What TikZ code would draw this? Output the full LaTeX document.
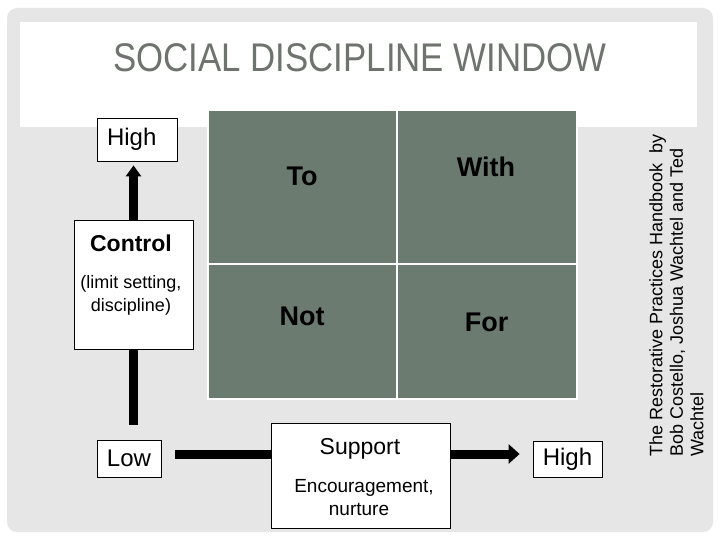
\documentclass[tikz,border=0pt]{standalone}
\usepackage{fontspec}
\setmainfont{Liberation Sans}
\usetikzlibrary{arrows.meta}
\definecolor{framegrey}{HTML}{E6E6E6}
\definecolor{gridgreen}{HTML}{6B7B70}
\definecolor{titlegrey}{HTML}{6E736E}
\begin{document}
\begin{tikzpicture}[x=1pt,y=-1pt,
 box/.style={draw=black, line width=0.8pt, fill=white, inner sep=0pt},
 cell/.style={fill=gridgreen, draw=white, line width=2.5pt, inner sep=0pt},
 celltext/.style={font=\fontsize{27}{30}\selectfont\bfseries, text=black},
 bigtext/.style={font=\fontsize{24}{28}\selectfont},
 smalltext/.style={font=\fontsize{18}{22}\selectfont, anchor=base},
 axis/.style={line width=9pt, black},
]
\useasboundingbox (0,0) rectangle (720,540);
\fill[white] (0,0) rectangle (720,540);
\fill[framegrey, rounded corners=10pt] (7,8) rectangle (713,532);
\fill[white] (20,22) rectangle (697,127);
\node[text=titlegrey, font=\fontsize{40}{44}\selectfont, inner sep=0pt] (title) at (360,58) {\scalebox{0.87}[1]{SOCIAL DISCIPLINE WINDOW}};

% grid
\node[cell, minimum width=189, minimum height=154] (c1) at (302.5,187) {};
\node[cell, minimum width=180, minimum height=154] (c2) at (487,187) {};
\node[cell, minimum width=189, minimum height=135] (c3) at (302.5,331.5) {};
\node[cell, minimum width=180, minimum height=135] (c4) at (487,331.5) {};
\node[celltext] (tto) at (302,176) {To};
\node[celltext] (twith) at (486,166.5) {With};
\node[celltext] (tnot) at (302,316.5) {Not};
\node[celltext] (tfor) at (486.5,322) {For};

% left axis
\node[box, bigtext, text width=60pt, align=left, inner xsep=10pt, minimum height=43] (hl) at (137,139.5) {High};
\node[box, minimum width=119, minimum height=129] (ctrl) at (133.5,284.5) {};
\node[font=\fontsize{23}{26}\selectfont\bfseries, inner sep=0pt] (ctrlt) at (131,243) {Control};
\node[smalltext] (ctrls1) at (131,288) {(limit setting,};
\node[smalltext] (ctrls2) at (131,311) {discipline)};
\node[box, bigtext, minimum width=64, minimum height=37] (low) at (129,458.5) {Low};
\coordinate (vbot) at (133.5,425);
\draw[axis, -{Triangle[width=15pt,length=11pt]}, shorten >=4pt] (ctrl.north) -- (ctrl.north |- hl.south);
\draw[axis] (ctrl.south) -- (ctrl.south |- vbot);

% bottom axis
\node[box, minimum width=179, minimum height=105] (sup) at (360.5,475.5) {};
\node[font=\fontsize{23}{26}\selectfont, anchor=base] (supt) at (360,454) {Support};
\node[font=\fontsize{19}{22}\selectfont, anchor=base] (supd1) at (364,492) {Encouragement,};
\node[font=\fontsize{19}{22}\selectfont, anchor=base] (supd2) at (359,515) {nurture};
\node[box, bigtext, minimum width=69, minimum height=36] (hr) at (567.5,459) {High};
\coordinate (hleft) at (175,454);
\draw[axis] (hleft) -- (sup.west |- hleft);
\draw[axis, -{Triangle[width=19pt,length=11pt]}, shorten >=13pt] (sup.east |- hleft) -- (hr.west |- hleft);

% citation
\node[rotate=90, anchor=north west, align=left, inner sep=0pt, font=\fontsize{18}{20.5}\selectfont] (cite) at (649,457) {The Restorative Practices Handbook\ \ by\\Bob Costello, Joshua Wachtel and Ted\\Wachtel};
\end{tikzpicture}
\end{document}
